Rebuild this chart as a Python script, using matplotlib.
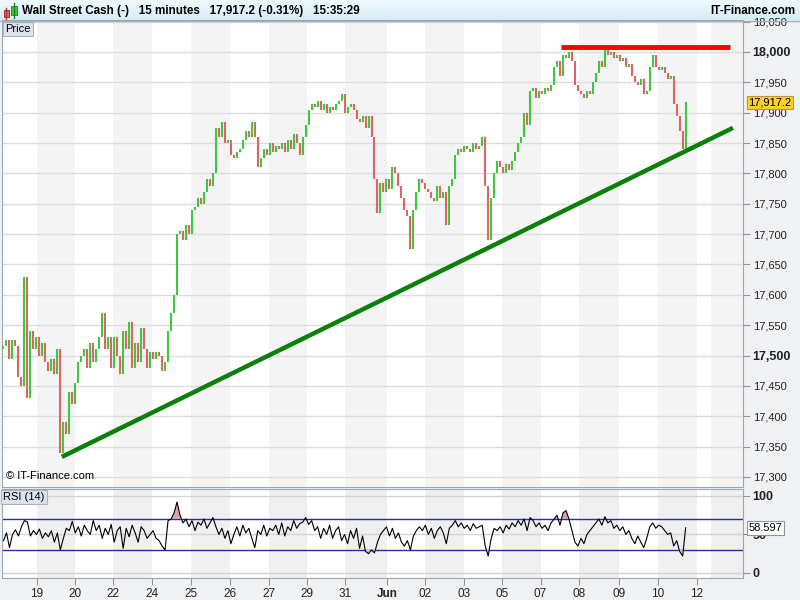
import matplotlib
matplotlib.use("Agg")
import matplotlib.pyplot as plt
from matplotlib.patches import Rectangle
from matplotlib.transforms import offset_copy
import numpy as np

plt.rcParams['font.family'] = ['Liberation Sans', 'DejaVu Sans']

# closes (each bar ~ a few 15-minute candles)
closes = [
    17515, 17525, 17495, 17525, 17515, 17465, 17450, 17630, 17430, 17540,
    17510, 17530, 17500, 17520, 17490, 17475, 17495, 17470, 17510, 17340,
    17390, 17370, 17440, 17420, 17455, 17490, 17500, 17510, 17480, 17520,
    17490, 17510, 17530, 17570, 17510, 17530, 17480, 17530, 17500, 17470,
    17540, 17510, 17555, 17480, 17520, 17490, 17545, 17510, 17480, 17505,
    17495, 17505, 17500, 17475, 17490, 17540, 17570, 17600, 17700, 17705,
    17690, 17715, 17700, 17740, 17745, 17760, 17750, 17770, 17790, 17780,
    17800, 17875, 17860, 17885, 17850, 17855, 17830, 17825, 17835, 17840,
    17855, 17870, 17860, 17885, 17860, 17810, 17825, 17840, 17830, 17850,
    17835, 17845, 17840, 17850, 17835, 17855, 17840, 17865, 17850, 17830,
    17860, 17880, 17905, 17915, 17910, 17920, 17905, 17915, 17900, 17910,
    17905, 17915, 17920, 17930, 17900, 17910, 17915, 17905, 17890, 17885,
    17895, 17875, 17895, 17860, 17790, 17735, 17785, 17770, 17790, 17775,
    17810, 17800, 17780, 17760, 17740, 17730, 17675, 17740, 17770, 17790,
    17785, 17775, 17770, 17760, 17755, 17780, 17760, 17770, 17715, 17780,
    17790, 17830, 17840, 17835, 17845, 17840, 17835, 17850, 17840, 17845,
    17860, 17780, 17690, 17760, 17800, 17820, 17810, 17800, 17815, 17805,
    17820, 17835, 17850, 17860, 17900, 17880, 17935, 17940, 17925, 17935,
    17930, 17940, 17935, 17945, 17975, 17985, 17960, 17995, 17990, 18000,
    17985, 17945, 17935, 17930, 17925, 17935, 17930, 17950, 17965, 17985,
    17975, 18010, 17995, 18000, 17990, 17995, 17985, 17990, 17975, 17980,
    17960, 17950, 17945, 17955, 17930, 17935, 17975, 17995, 17975, 17970,
    17975, 17965, 17955, 17960, 17915, 17895, 17870, 17840, 17917.2,
]
first_open = 17510

# RSI(14), one value per bar above
rsi_values = [
    42, 52, 33, 50, 56, 48, 60, 68, 66, 48,
    55, 50, 57, 45, 52, 47, 55, 40, 52, 30,
    45, 58, 55, 67, 52, 60, 48, 62, 55, 50,
    68, 55, 62, 45, 58, 50, 63, 40, 55, 60,
    32, 58, 47, 62, 52, 40, 60, 55, 45, 50,
    55, 45, 42, 35, 30, 68, 70, 78, 92, 75,
    65, 70, 60, 68, 55, 66, 62, 70, 58, 65,
    72, 60, 50, 58, 45, 55, 38, 50, 60, 48,
    62, 52, 58, 45, 33, 55, 50, 62, 48, 58,
    55, 62, 50, 65, 48, 60, 55, 68, 58, 64,
    66, 72, 63, 68, 55, 60, 45, 58, 50, 62,
    45, 55, 60, 42, 50, 38, 55, 45, 58, 32,
    48, 28, 25, 30, 26, 40, 50, 55, 60, 48,
    58, 45, 52, 40, 35, 42, 30, 48, 55, 60,
    55, 62, 50, 58, 45, 55, 60, 52, 38, 58,
    62, 68, 60, 65, 58, 62, 55, 64, 58, 60,
    62, 35, 22, 45, 58, 55, 60, 52, 62, 57,
    65, 60, 68, 62, 70, 55, 72, 68, 60, 65,
    58, 62, 55, 65, 70, 75, 62, 78, 81, 70,
    55, 40, 35, 45, 38, 50, 55, 60, 65, 70,
    62, 73, 65, 68, 58, 62, 55, 60, 50, 55,
    45, 38, 48, 40, 33, 45, 60, 65, 58, 62,
    60, 55, 50, 52, 35, 42, 28, 22, 58.597,
]

day_labels = ['19', '20', '22', '24', '25', '26', '27', '29', '31', 'Jun',
              '02', '03', '05', '07', '08', '09', '10', '12']
day_start_bar = [11.7, 24.3, 37.0, 50.0, 63.3, 76.3, 89.3, 102.0, 114.7, 128.7,
                 141.3, 154.3, 167.0, 180.0, 193.0, 206.3, 219.3, 232.3]

price_ticks = list(range(17300, 18051, 50))
bold_prices = [17500, 18000]

support_line = [(20, 17333), (244.3, 17875)]
resistance_line = [(187, 18008), (243.3, 18008)]

last_price = closes[-1]
last_rsi = rsi_values[-1]
header = "Wall Street Cash (-)   15 minutes   17,917.2 (-0.31%)   15:35:29"

# ---------------------------------------------------------------
n = len(closes)
c = np.array(closes, dtype=float)
o = np.concatenate([[first_open], c[:-1]])
x = np.arange(n) + 0.5
up = c >= o
cols = np.where(up, '#3ec83e', '#e06464')
lo = np.minimum(o, c)
hi = np.maximum(np.maximum(o, c), lo + 2.0)
rsi = np.array(rsi_values, dtype=float)

fig = plt.figure(figsize=(8, 6), dpi=100, facecolor='#f0f1f3')
W, H = 800, 600
xmax = 743 / 3

def fx(px):
    return px / W

def fy(py):
    return 1 - py / H

# header bar
hax = fig.add_axes([0, fy(20), 1, 20 / H])
grad = np.linspace(0, 1, 20).reshape(-1, 1)
hax.imshow(grad, aspect='auto', cmap=matplotlib.colors.LinearSegmentedColormap.from_list(
    'h', ['#eef9fd', '#d6edf6']), extent=[0, 1, 0, 1])
hax.set_axis_off()
fig.add_artist(plt.Line2D([0, 1], [fy(20.5), fy(20.5)], color='#9fb0bc', lw=1))
fig.text(fx(22), fy(11), header, fontsize=8.4, fontweight='bold', va='center', ha='left')
fig.text(fx(795), fy(11), 'IT-Finance.com', fontsize=8.4, fontweight='bold', va='center', ha='right')
# icon
fig.add_artist(plt.Line2D([fx(6), fx(6)], [fy(8), fy(19)], color='#c03030', lw=1))
fig.add_artist(Rectangle((fx(3.5), fy(16.5)), 5 / W, 6.5 / H, facecolor='#e06464', edgecolor='#a02020', lw=0.6))
fig.add_artist(plt.Line2D([fx(14), fx(14)], [fy(3), fy(18)], color='#208020', lw=1))
fig.add_artist(Rectangle((fx(11), fy(15)), 5.5 / W, 9 / H, facecolor='#3ec83e', edgecolor='#208020', lw=0.6))

# price panel
ax = fig.add_axes([fx(2), fy(487), (743 - 2) / W, (487 - 20) / H])
ax.set_facecolor('white')
for k in range(0, len(day_start_bar) - 1, 2):
    ax.axvspan(day_start_bar[k], day_start_bar[k + 1], color='#f4f4f4', lw=0, zorder=0)
ax.axvspan(237, xmax, color='#f4f4f4', lw=0, zorder=0)
for p in price_ticks:
    ax.axhline(p, color='#dddddd', lw=1, zorder=1)
ax.vlines(x, lo, hi, colors=cols, lw=1.5, zorder=3)
ax.plot(*zip(*support_line), color='#0a7f0a', lw=3.2, solid_capstyle='butt', zorder=4)
ax.plot(*zip(*resistance_line), color='#ff0000', lw=3.5, solid_capstyle='butt', zorder=4)
ax.set_xlim(0, xmax)
ax.set_ylim(17283.4, 18052.7)
ax.set_xticks([])
ax.yaxis.tick_right()
ax.set_yticks(price_ticks)
ax.set_yticklabels([f'{p:,}' for p in price_ticks], fontsize=8, color='#222222')
for lbl, p in zip(ax.get_yticklabels(), price_ticks):
    if p in bold_prices:
        lbl.set_fontweight('bold')
        lbl.set_fontsize(9)
    if p == price_ticks[-1]:
        lbl.set_transform(offset_copy(lbl.get_transform(), fig=fig, y=-5, units='dots'))
ax.tick_params(axis='y', length=5, color='#8a96a0', pad=2)
for sp in ax.spines.values():
    sp.set_color('#9aa6b0')
ax.text(0.005, 0.012, '\u00a9 IT-Finance.com', transform=ax.transAxes, fontsize=8, va='bottom')
ax.annotate('Price', xy=(0, 1), xycoords='axes fraction', xytext=(2, -3),
            textcoords='offset points', fontsize=8, va='top', ha='left',
            bbox=dict(boxstyle='square,pad=0.2', fc='#dbe4ec', ec='#a7b4c0', lw=0.8))
ax.annotate(f'{last_price:,.1f}', xy=(1, last_price), xycoords=('axes fraction', 'data'),
            xytext=(4, 0), textcoords='offset points', fontsize=8, va='center', ha='left',
            bbox=dict(boxstyle='square,pad=0.15', fc='#ffd21f', ec='#b89a30', lw=0.8),
            annotation_clip=False, zorder=10)

# RSI panel
rx = fig.add_axes([fx(2), fy(578), (743 - 2) / W, (578 - 489) / H])
rx.set_facecolor('white')
for k in range(0, len(day_start_bar) - 1, 2):
    rx.axvspan(day_start_bar[k], day_start_bar[k + 1], color='#efefef', lw=0, zorder=0)
rx.axvspan(237, xmax, color='#efefef', lw=0, zorder=0)
for lv in (0, 50, 100):
    rx.axhline(lv, color='#d4d4d4', lw=1, zorder=1)
rx.axhline(70, color='#2a2aa0', lw=1, zorder=2)
rx.axhline(30, color='#2a2aa0', lw=1, zorder=2)
rx.fill_between(x, rsi, 70, where=rsi > 70, color='#d9a3a3', lw=0, zorder=2, interpolate=True)
rx.fill_between(x, rsi, 30, where=rsi < 30, color='#a8dca8', lw=0, zorder=2, interpolate=True)
rx.plot(x, rsi, color='black', lw=0.8, zorder=3)
rx.set_xlim(0, xmax)
rx.set_ylim(-6.5, 109)
rx.yaxis.tick_right()
rx.set_yticks([0, 50, 100])
rx.set_yticklabels(['0', '50', '100'], fontsize=9, fontweight='bold', color='#222222')
rx.tick_params(axis='y', length=5, color='#8a96a0', pad=2)
rx.set_xticks(day_start_bar)
rx.set_xticklabels(day_labels, fontsize=8.5, color='#222222')
for lbl, t in zip(rx.get_xticklabels(), day_labels):
    if t == 'Jun':
        lbl.set_fontweight('bold')
rx.tick_params(axis='x', length=5, color='#8a96a0', pad=2)
for sp in rx.spines.values():
    sp.set_color('#9aa6b0')
rx.annotate('RSI (14)', xy=(0, 1), xycoords='axes fraction', xytext=(1, -2),
            textcoords='offset points', fontsize=8, va='top', ha='left',
            bbox=dict(boxstyle='square,pad=0.2', fc='#dbe4ec', ec='#a7b4c0', lw=0.8))
rx.annotate(f'{last_rsi:.3f}', xy=(1, last_rsi), xycoords=('axes fraction', 'data'),
            xytext=(4, 0), textcoords='offset points', fontsize=8, va='center', ha='left',
            bbox=dict(boxstyle='square,pad=0.15', fc='white', ec='#8a96a0', lw=0.8),
            annotation_clip=False, zorder=10)

fig.savefig('out.png', dpi=100, facecolor=fig.get_facecolor())
